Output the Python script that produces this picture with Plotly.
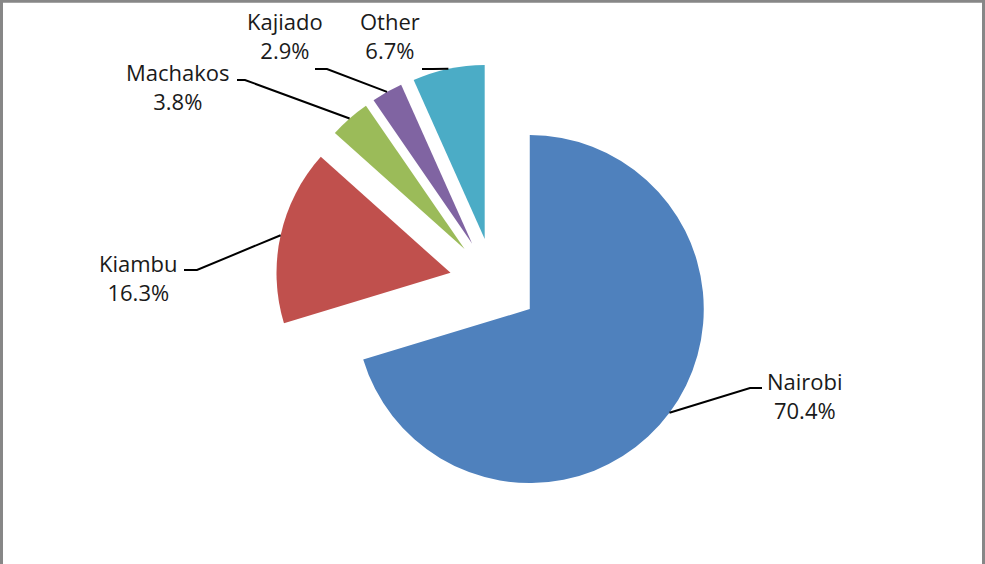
import math
import plotly.graph_objects as go

# ---- data ----
counties = ["Nairobi", "Kiambu", "Machakos", "Kajiado", "Other"]
shares = [70.4, 16.3, 3.8, 2.9, 6.7]
share_labels = ["70.4%", "16.3%", "3.8%", "2.9%", "6.7%"]

# ---- style / layout ----
colors = ["#4F81BD", "#C0504D", "#9BBB59", "#8064A2", "#4BACC6"]
W, H = 985, 564
PULL = 0.256
CX, CY = 494.0, 282.5      # pie centre in px
R = 174.0                  # pie radius in px
S = R * (2 + 2 * PULL)     # plotly domain box size that yields radius R

# label block centres (px) and leader elbows (px)
label_xy = [(805, 395), (138, 277), (178, 86), (285, 36), (390, 36)]
elbows = [((750, 388), (762, 388)),
          ((197, 270), (184, 270)),
          ((245, 80), (237, 80)),
          ((327, 69), (315, 69)),
          ((433, 69), (422, 69))]

FONT = "Open Sans"
TEXT_COLOR = "#1a1a1a"


def px(x):
    return x / W


def py(y):
    return 1 - y / H


fig = go.Figure()
fig.add_trace(go.Pie(
    labels=counties,
    values=shares,
    sort=False,
    direction="clockwise",
    rotation=0,
    pull=[PULL] * len(shares),
    marker=dict(colors=colors, line=dict(width=0)),
    textinfo="none",
    hoverinfo="label+percent",
    showlegend=False,
    domain=dict(x=[(CX - S / 2) / W, (CX + S / 2) / W],
                y=[1 - (CY + S / 2) / H, 1 - (CY - S / 2) / H]),
))

shapes = []
annotations = []
total = sum(shares)
cum = 0.0
for i, v in enumerate(shares):
    a0 = cum / total * 360
    a1 = (cum + v) / total * 360
    cum += v
    mid = math.radians((a0 + a1) / 2)
    dx, dy = math.sin(mid), -math.cos(mid)
    vx, vy = CX + PULL * R * dx, CY + PULL * R * dy
    ax, ay = vx + R * dx, vy + R * dy
    (ex, ey), (hx, hy) = elbows[i]
    shapes.append(dict(
        type="path", xref="paper", yref="paper",
        path=f"M {px(ax)},{py(ay)} L {px(ex)},{py(ey)} L {px(hx)},{py(hy)}",
        line=dict(color="black", width=2),
    ))
    lx, ly = label_xy[i]
    annotations.append(dict(
        x=px(lx), y=py(ly), xref="paper", yref="paper",
        text=f"{counties[i]}<br>{share_labels[i]}",
        showarrow=False, xanchor="center", yanchor="middle", align="center",
        font=dict(family=FONT, size=22, color=TEXT_COLOR),
    ))

# outer chart frame
shapes.append(dict(
    type="rect", xref="paper", yref="paper",
    x0=px(1.5), x1=px(983.5), y0=-0.05, y1=py(1.3),
    line=dict(color="#878787", width=3), fillcolor="rgba(0,0,0,0)",
))

fig.update_layout(
    width=W, height=H,
    margin=dict(l=0, r=0, t=0, b=0),
    paper_bgcolor="white",
    plot_bgcolor="white",
    shapes=shapes,
    annotations=annotations,
)

fig.write_html("out.html")
